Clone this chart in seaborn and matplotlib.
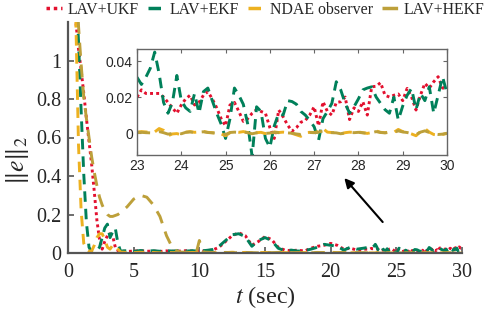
import numpy as np
import pandas as pd
import matplotlib
matplotlib.use("Agg")
import matplotlib.pyplot as plt
import seaborn as sns

# ---------------- data ----------------
series_names = ["LAV+UKF", "LAV+EKF", "NDAE observer", "LAV+HEKF"]
series_colors = ["#E3102E", "#00805A", "#EDB120", "#BDA03A"]

t_main = [0, 0.3, 0.6, 0.8, 1.0, 1.2, 1.4, 1.6, 1.8, 2.0, 2.2, 2.4, 2.6, 2.8, 3.0, 3.2, 3.4, 3.6, 3.8, 4.0,
          4.5, 5.0, 5.5, 6.0, 6.5, 7.0, 7.5, 8.0, 8.5, 9.0, 9.5, 9.8, 10.0, 10.3, 10.6,
          11.0, 11.5, 12.0, 12.5, 13.0, 13.5, 14.0, 14.5, 15.0, 15.5, 16.0, 16.5, 17.0, 17.5,
          18.0, 18.5, 19.0, 19.5, 20.0, 20.5, 21.0, 21.5, 22.0, 22.5]

t_inset = [23.0, 23.1, 23.2, 23.3, 23.4, 23.5, 23.6, 23.7, 23.8, 23.9,
           24.0, 24.1, 24.2, 24.3, 24.4, 24.5, 24.6, 24.7, 24.8, 24.9,
           25.0, 25.1, 25.2, 25.3, 25.4, 25.5, 25.6, 25.7, 25.8, 25.9,
           26.0, 26.1, 26.2, 26.3, 26.4, 26.5, 26.6, 26.7, 26.8, 26.9,
           27.0, 27.1, 27.2, 27.3, 27.4, 27.5, 27.6, 27.7, 27.8, 27.9,
           28.0, 28.1, 28.2, 28.3, 28.4, 28.5, 28.6, 28.7, 28.8, 28.9,
           29.0, 29.1, 29.2, 29.3, 29.4, 29.5, 29.6, 29.7, 29.8, 29.9, 30.0]

ukf_main = [1.9, 1.55, 1.2, 1.06, 0.95, 0.83, 0.7, 0.58, 0.46, 0.32, 0.17, 0.07, 0.02, 0.06, 0.09, 0.1, 0.09, 0.03, 0.012, 0.01,
            0.008, 0.01, 0.012, 0.009, 0.01, 0.008, 0.011, 0.009, 0.01, 0.012, 0.01, 0.009, 0.011, 0.01, 0.012,
            0.015, 0.03, 0.06, 0.09, 0.105, 0.09, 0.04, 0.06, 0.085, 0.07, 0.03, 0.015, 0.012, 0.015,
            0.01, 0.025, 0.035, 0.04, 0.05, 0.04, 0.02, 0.025, 0.015, 0.02]
ekf_main = [1.9, 1.7, 1.4, 1.1, 0.74, 0.41, 0.16, 0.03, 0.005, 0.005, 0.01, 0.03, 0.08, 0.13, 0.15, 0.08, 0.11, 0.13, 0.05, 0.01,
            0.012, 0.008, 0.013, 0.01, 0.012, 0.009, 0.012, 0.01, 0.013, 0.01, 0.012, 0.01, 0.013, 0.012, 0.014,
            0.018, 0.035, 0.065, 0.095, 0.1, 0.085, 0.035, 0.065, 0.08, 0.065, 0.025, 0.012, 0.015, 0.01,
            0.012, 0.02, 0.03, 0.045, 0.04, 0.035, 0.015, 0.03, 0.02, 0.025]
ndae_main = [1.9, 1.6, 1.2, 0.56, 0.22, 0.05, 0.02, 0.01, 0.01, 0.04, 0.08, 0.1, 0.1, 0.07, 0.03, 0.02, 0.04, 0.04, 0.02, 0.005,
             0.003, 0.002, 0.004, 0.002, 0.003, 0.001, 0.003, 0.002, 0.004, 0.002, 0.003, 0.002, 0.004, 0.002, 0.003,
             0.001, 0.003, 0.002, 0.004, 0.002, 0.003, 0.001, 0.002, 0.003, 0.002, 0.004, 0.002, 0.001, 0.003,
             0.002, 0.003, 0.001, 0.002, 0.004, 0.002, 0.003, 0.001, 0.002, 0.003]
hekf_main = [1.9, 1.6, 1.45, 1.18, 0.98, 0.81, 0.7, 0.6, 0.5, 0.42, 0.35, 0.29, 0.25, 0.22, 0.2, 0.19, 0.19, 0.195, 0.2, 0.21,
             0.24, 0.28, 0.3, 0.29, 0.25, 0.19, 0.09, 0.02, 0.005, 0.004, 0.005, 0.01, 0.065, 0.005, 0.004,
             0.003, 0.002, 0.003, 0.001, 0.002, 0.003, 0.002, 0.001, 0.003, 0.002, 0.003, 0.001, 0.002, 0.003,
             0.002, 0.001, 0.003, 0.002, 0.002, 0.001, 0.003, 0.002, 0.001, 0.002]

ukf_inset = [0.020, 0.024, 0.022, 0.022, 0.022, 0.022, 0.020, 0.017, 0.014, 0.011,
             0.0156, 0.019, 0.021, 0.0156, 0.017, 0.021, 0.023, 0.019, 0.014, 0.008,
             0.004, 0.0156, 0.017, 0.012, 0.0065, 0.008, 0.011, 0.013, 0.012, 0.011,
             0.003, -0.003, 0.0128, 0.009, 0.0045, 0.001, 0.003, 0.006, 0.007, 0.010,
             0.0146, 0.004, 0.0174, 0.012, 0.010, 0.017, 0.0174, 0.020, 0.0075, 0.014,
             0.012, 0.0174, 0.010, 0.0257, 0.026, 0.028, 0.021, 0.020, 0.021, 0.0217,
             0.018, 0.0248, 0.020, 0.0128, 0.021, 0.0276, 0.025, 0.0285, 0.0313, 0.025, 0.0248]
ekf_inset = [0.031, 0.027, 0.031, 0.036, 0.045, 0.033, 0.017, 0.011, 0.017, 0.032,
             0.018, 0.014, 0.012, 0.022, 0.011, 0.023, 0.025, 0.018, 0.011, 0.005,
             -0.003, 0.008, 0.025, 0.021, 0.016, 0.005, -0.013, 0.0146, 0.012, -0.003,
             -0.008, 0.004, 0.011, 0.010, 0.018, 0.0175, 0.016, 0.012, 0.010, 0.007,
             0.0035, -0.004, 0.008, 0.012, 0.0165, 0.0285, 0.024, 0.0165, 0.011, 0.0146,
             0.019, 0.024, 0.025, 0.0257, 0.020, 0.0165, 0.013, 0.011, 0.020, 0.0072,
             0.015, 0.021, 0.0248, 0.013, 0.022, 0.018, 0.0257, 0.011, 0.021, 0.0313, 0.022]
ndae_inset = [0.0005, 0.0008, 0.0006, 0.0004, 0.0006, 0.0025, 0.0015, -0.0015, -0.0005, -0.0003,
              -0.0010, 0.0005, 0.0008, 0.0004, 0.0006, 0.0009, 0.0004, 0.0002, -0.0002, -0.0005,
              -0.0015, 0.0002, 0.0006, 0.0004, 0.0008, 0.0003, -0.0005, 0.0002, 0.0004, -0.0003,
              0.0, 0.0006, 0.0003, 0.0005, 0.0002, -0.0002, -0.0010, -0.0018, 0.0002, 0.0004,
              0.0003, 0.0008, 0.0025, 0.0005, 0.0003, 0.0002, -0.0005, 0.0002, 0.0005, 0.0003,
              0.0006, 0.0002, -0.0002, 0.0003, 0.0012, 0.0004, 0.0002, 0.0006, 0.0004, 0.0020,
              0.0008, 0.0004, -0.0005, -0.0015, 0.0008, 0.0025, 0.0005, -0.0008, -0.0012, -0.0008, -0.0002]
hekf_inset = [0.0003, 0.0004, 0.0002, 0.0001, 0.0003, 0.0008, 0.0002, -0.0006, -0.0002, 0.0,
              -0.0004, 0.0004, 0.0006, 0.0003, 0.0005, 0.0007, 0.0003, 0.0001, 0.0, -0.0002,
              -0.0008, 0.0003, 0.0005, 0.0004, 0.0006, 0.0002, -0.0004, 0.0001, 0.0003, -0.0002,
              0.0, 0.0004, 0.0002, 0.0004, 0.0001, -0.0001, -0.0005, -0.0008, 0.0001, 0.0003,
              0.0002, 0.0005, 0.0012, 0.0004, 0.0002, 0.0001, -0.0004, 0.0001, 0.0004, 0.0002,
              0.0004, 0.0001, -0.0001, 0.0002, 0.0008, 0.0003, 0.0001, 0.0004, 0.0003, 0.0012,
              0.0006, 0.0003, -0.0003, -0.0009, 0.0005, 0.0012, 0.0003, -0.0005, -0.0008, -0.0006, -0.0001]

main_xticks = [0, 5, 10, 15, 20, 25, 30]
main_yticks = [0, 0.2, 0.4, 0.6, 0.8, 1.0]
main_ylabels = ["0", "0.2", "0.4", "0.6", "0.8", "1"]
inset_xticks = [23, 24, 25, 26, 27, 28, 29, 30]
inset_yticks = [0, 0.02, 0.04]
inset_ylabels = ["0", "0.02", "0.04"]

# ---------------- build table ----------------
values = {"LAV+UKF": ukf_main + ukf_inset, "LAV+EKF": ekf_main + ekf_inset,
          "NDAE observer": ndae_main + ndae_inset, "LAV+HEKF": hekf_main + hekf_inset}
t_all = t_main + t_inset
frames = [pd.DataFrame({"t": t_all, "e": values[n], "method": n}) for n in series_names]
df = pd.concat(frames, ignore_index=True)

styles = {"LAV+UKF": (0, (1, 1.1)), "LAV+EKF": (0, (3.6, 2.4)),
          "NDAE observer": (0, (3.6, 2.6)), "LAV+HEKF": (0, (4.5, 3.0))}

sns.set_style("ticks")
plt.rcParams["font.family"] = ["Liberation Serif", "DejaVu Serif"]
plt.rcParams["mathtext.fontset"] = "stix"

fig = plt.figure(figsize=(4.92, 3.11), dpi=100)
W, H = 492, 311
ax = fig.add_axes([68 / W, (H - 253) / H, 394 / W, 231 / H])

lw = 2.1
handles = []
for n, c in zip(series_names, series_colors):
    sub = df[df["method"] == n]
    sns.lineplot(data=sub, x="t", y="e", ax=ax, color=c, lw=lw, linestyle=styles[n],
                 errorbar=None, sort=False, estimator=None, legend=False)
    handles.append(ax.get_lines()[-1])

ax.set_xlim(0, 30)
ax.set_ylim(0, 1.2)
ax.set_xticks(main_xticks)
ax.set_xticklabels([str(v) for v in main_xticks])
ax.set_yticks(main_yticks)
ax.set_yticklabels(main_ylabels)
for s in ["top", "right"]:
    ax.spines[s].set_visible(False)
for s in ["left", "bottom"]:
    ax.spines[s].set_color("#555555")
    ax.spines[s].set_linewidth(1.6)
ax.tick_params(direction="in", length=4, width=1.2, color="#555555", labelsize=14.5,
               labelcolor="#262626")
ax.tick_params(axis="x", pad=7)
ax.tick_params(axis="y", pad=5)
ax.set_xlabel("$t$ (sec)", fontsize=17.5, color="#262626", labelpad=2)
ax.set_ylabel(r"$\|e\|_2$", fontsize=18.5, color="#262626")
ax.yaxis.set_label_coords(-0.095, 0.40)

# arrow pointing to the inset
ax.annotate("", xy=(20.9, 0.40), xytext=(24.1, 0.15), xycoords="data",
            arrowprops=dict(arrowstyle="-|>", color="black", lw=1.5, mutation_scale=14))

# ---------------- inset ----------------
axi = fig.add_axes([137 / W, (H - 155) / H, 310 / W, 106 / H])
axi.set_facecolor("white")
dfi = df[df["t"] >= 23]
for n, c in zip(series_names, series_colors):
    sub = dfi[dfi["method"] == n]
    sns.lineplot(data=sub, x="t", y="e", ax=axi, color=c, lw=lw, linestyle=styles[n],
                 errorbar=None, sort=False, estimator=None, legend=False)
axi.set_xlim(23, 30)
axi.set_ylim(-0.0122, 0.0467)
axi.set_xticks(inset_xticks)
axi.set_xticklabels([str(v) for v in inset_xticks], family=["Liberation Sans", "DejaVu Sans"])
axi.set_yticks(inset_yticks)
axi.set_yticklabels(inset_ylabels, family=["Liberation Sans", "DejaVu Sans"])
axi.set_xlabel("")
axi.set_ylabel("")
for s in axi.spines.values():
    s.set_visible(True)
    s.set_color("#666666")
    s.set_linewidth(1.0)
axi.tick_params(direction="in", length=3, width=0.8, color="#666666", labelsize=10,
                labelcolor="#262626", top=True, right=True, pad=3)

# ---------------- legend ----------------
leg = fig.legend(handles, series_names, loc="upper left", bbox_to_anchor=(46 / W, 0.995),
                 ncol=4, frameon=False, fontsize=11.4, handlelength=1.0, handletextpad=0.35,
                 columnspacing=0.6, borderpad=0.0, borderaxespad=0.0)
for line in leg.get_lines():
    line.set_linewidth(2.5)

fig.savefig("out.png", dpi=100)
